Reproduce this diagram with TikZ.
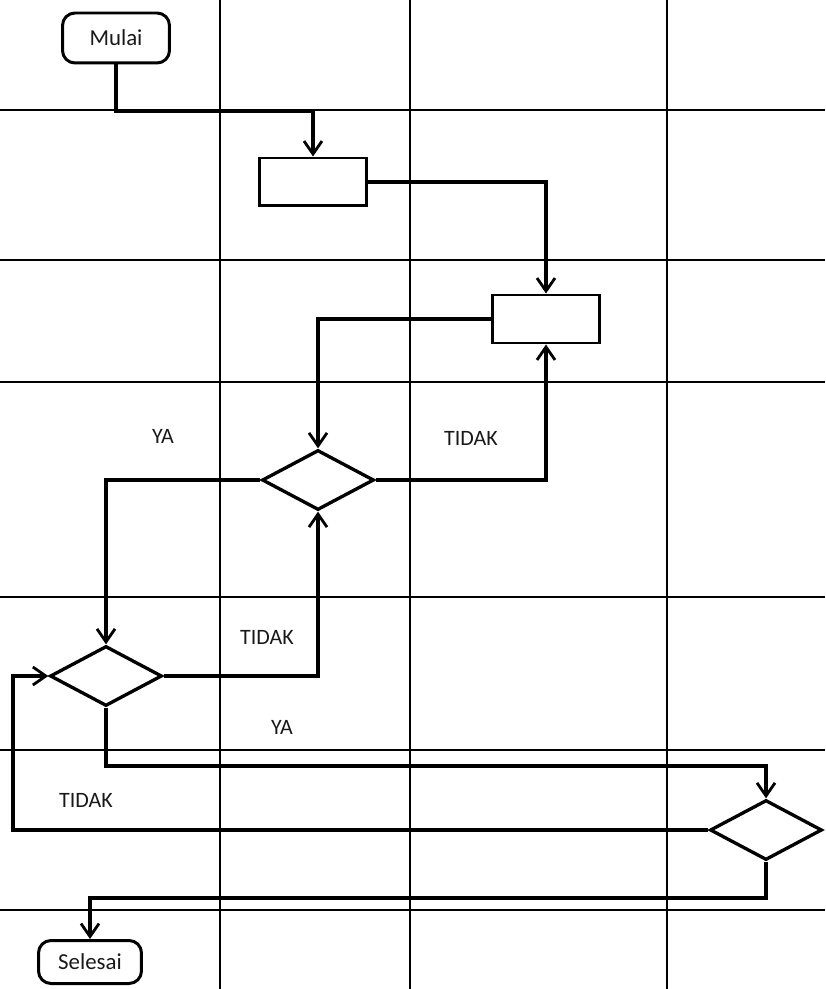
\documentclass[tikz,border=0pt]{standalone}
\usepackage{fontspec}
\setmainfont{Carlito}
\usetikzlibrary{shapes.geometric,arrows.meta}

\begin{document}
\begin{tikzpicture}[x=0.02cm,y=-0.02cm,
    grid/.style={line width=0.9pt},
    flow/.style={line width=2.1pt,-{Straight Barb[length=2.6mm,width=3.6mm,line width=1.6pt]}},
    terminal/.style={draw,line width=1.7pt,rounded corners=0.25cm,fill=white,font=\fontsize{13}{15}\selectfont,text=black!90,inner sep=0pt},
    process/.style={draw,line width=1.7pt,fill=white,minimum width=2.14cm,minimum height=0.96cm,inner sep=0pt},
    decision/.style={draw,diamond,line width=1.9pt,fill=white,minimum width=2.24cm,minimum height=1.2cm,inner sep=0pt},
    label/.style={font=\fontsize{12.5}{14}\selectfont,text=black!90}]
    \useasboundingbox (0,0) rectangle (825,989);

    % grid
    \foreach \gx in {220,410,667}
        \draw[grid] (\gx,0) -- (\gx,989);
    \foreach \gy in {110,260,382,597,750,910}
        \draw[grid] (0,\gy) -- (825,\gy);

    % nodes
    \node[terminal,minimum width=2.14cm,minimum height=1.0cm] (mulai) at (116,38) {Mulai};
    \node[process] (box1) at (313,182) {};
    \node[process] (box2) at (546,319) {};
    \node[decision] (dec1) at (318,480) {};
    \node[decision] (dec2) at (106,676) {};
    \node[decision] (dec3) at (766,830) {};
    \node[terminal,minimum width=2.06cm,minimum height=0.86cm] (selesai) at (90,962) {Selesai};
    \coordinate (back) at (13,760);

    % connectors
    \draw[flow] (mulai.south) -- ++(0,47) -| (box1.north);
    \draw[flow] (box1.east) -| (box2.north);
    \draw[flow] (box2.west) -| (dec1.north);
    \draw[flow] (dec1.east) -| (box2.south);
    \draw[flow] (dec1.west) -| (dec2.north);
    \draw[flow] (dec2.east) -| (dec1.south);
    \draw[flow] (dec2.south) -- ++(0,58) -| (dec3.north);
    \draw[flow] (dec3.west) -| (back) |- (dec2.west);
    \draw[flow] (dec3.south) -- ++(0,36) -| (selesai.north);

    % labels
    \node[label] (ya1) at (163,436) {YA};
    \node[label] (tidak1) at (471,438) {TIDAK};
    \node[label] (tidak2) at (267,637) {TIDAK};
    \node[label] (ya2) at (282,727) {YA};
    \node[label] (tidak3) at (86,800) {TIDAK};

\end{tikzpicture}
\end{document}
